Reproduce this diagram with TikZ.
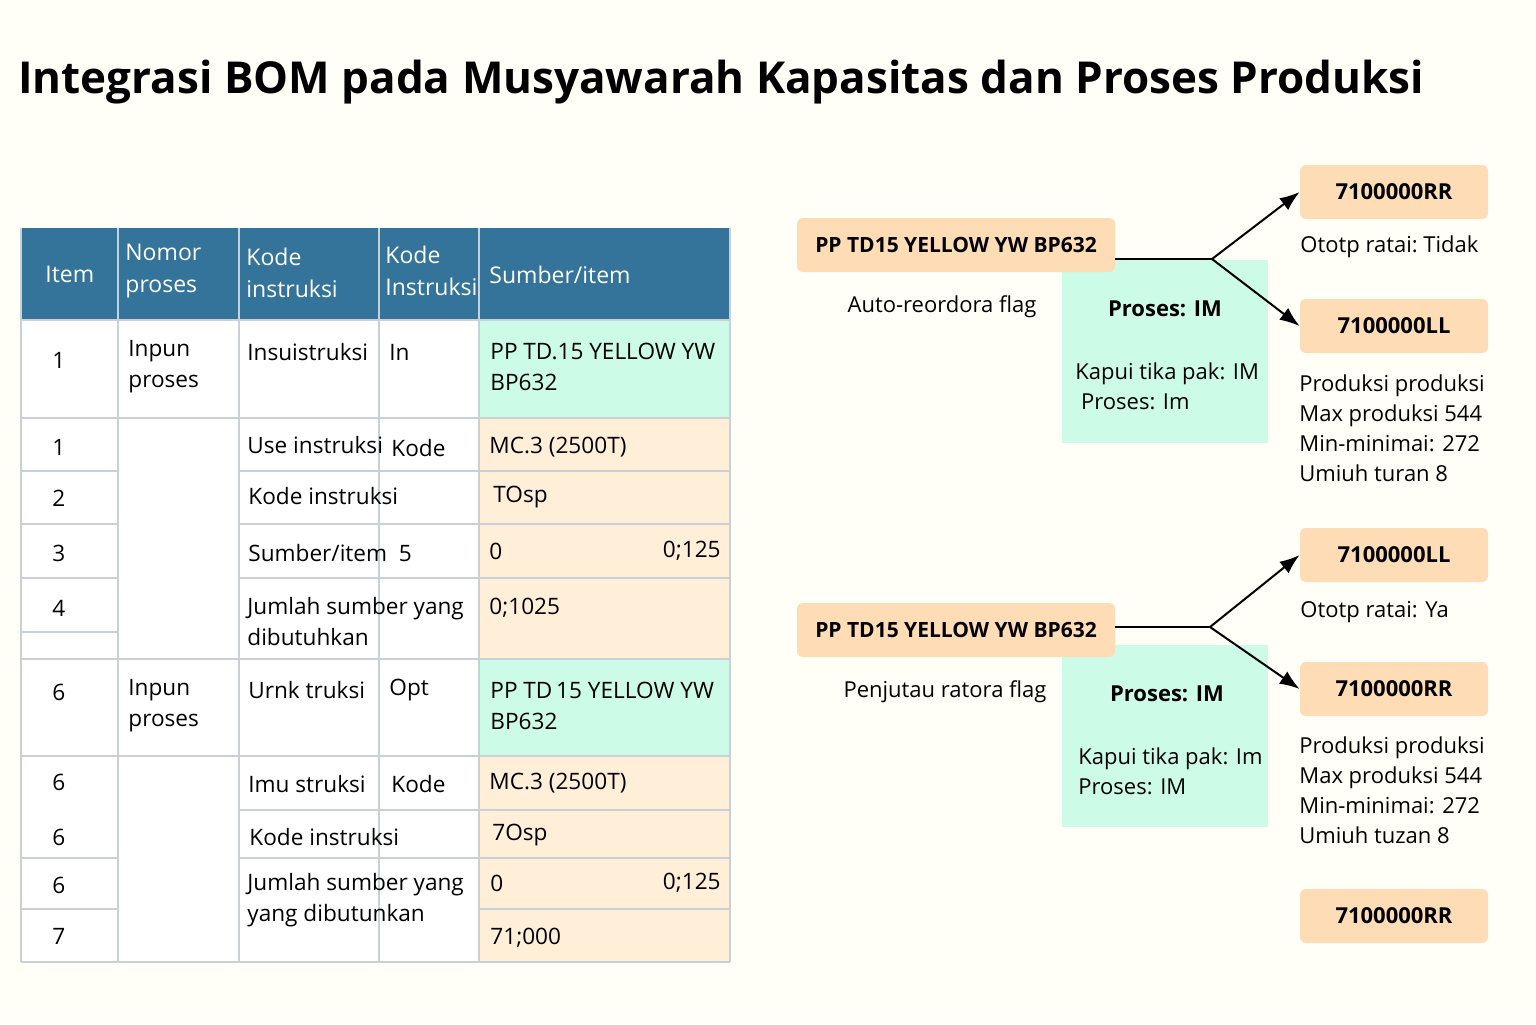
\documentclass[tikz,border=0pt]{standalone}
\usepackage{fontspec}
\setmainfont{Open Sans}
\usetikzlibrary{arrows.meta,positioning}
\definecolor{hdr}{HTML}{34739A}
\definecolor{mint}{HTML}{CCFBE8}
\definecolor{peach}{HTML}{FFEED8}
\definecolor{tag}{HTML}{FDDCB6}
\definecolor{grid}{HTML}{C9D0D6}

\begin{document}
\begin{tikzpicture}[
  x=0.5pt, y=-0.5pt,
  font=\fontsize{11}{13}\selectfont,
  cell/.style={anchor=west, align=left, inner sep=0pt, font=\fontsize{11.3}{15.5}\selectfont},
  hcell/.style={cell, text=white, font=\fontsize{11.5}{16}\selectfont},
  tagbox/.style={fill=tag, rounded corners=3pt, minimum height=27pt, inner sep=0pt},
  gl/.style={draw=grid, line width=0.6pt},
  arr/.style={-{Latex[length=3.5mm,width=2.6mm]}, line width=1pt}
]
\useasboundingbox (0,0) rectangle (1536,1024);
\fill[white!97!yellow] (0,0) rectangle (1536,1024);

\node[anchor=west, inner sep=0pt, font=\fontsize{22}{26}\selectfont\bfseries] (title) at (18,82) {Integrasi BOM pada Musyawarah Kapasitas dan Proses Produksi};

% table fills
\fill[hdr] (21,228) rectangle (730,320);
\fill[white] (21,320) rectangle (479,962);
\fill[mint] (479,320) rectangle (730,418);
\fill[peach] (479,418) rectangle (730,659);
\fill[mint] (479,659) rectangle (730,756);
\fill[peach] (479,756) rectangle (730,962);

% grid
\foreach \x in {21,118,239,379,479,730}
  \draw[gl] (\x,228) -- (\x,962);
\foreach \y in {320,418,471,524,578,632,659,756,858,909,962}
  \draw[gl] (21,\y) -- (118,\y);
\foreach \y in {320,418,659,756,962}
  \draw[gl] (118,\y) -- (239,\y);
\foreach \y in {320,418,471,524,578,659,756,810,858,962}
  \draw[gl] (239,\y) -- (730,\y);
\draw[gl] (479,909) -- (730,909);

% header
\node[hcell] (hItem) at (45,274) {Item};
\node[hcell] (hNomor) at (125,271) {Nomor\\proses};
\node[hcell] (hKode) at (246,273) {Kode\\instruksi};
\node[hcell] (hKodeI) at (385,271) {Kode\\Instruksi};
\node[hcell] (hSumber) at (489,275) {Sumber/item};

% block one
\node[cell] (a1) at (52,360) {1};
\node[cell] (a2) at (128,367) {Inpun\\proses};
\node[cell] (a3) at (247,352) {Insuistruksi};
\node[cell] (a4) at (389,352) {In};
\node[cell] (a5) at (490,367) {PP\ TD.15\ YELLOW YW\\BP632};
\node[cell] (b1) at (52,447) {1};
\node[cell] (b3) at (247,445) {Use instruksi};
\node[cell] (b4) at (391,448) {Kode};
\node[cell] (b5) at (489,447) {MC.3\ (2500T)};
\node[cell] (c1) at (52,498) {2};
\node[cell] (c3) at (248,496) {Kode instruksi};
\node[cell] (c5) at (493,497) {TOsp};
\node[cell] (d1) at (52,553) {3};
\node[cell] (d3) at (248,553) {Sumber/item\ \ 5};
\node[cell] (d5) at (489,551) {0};
\node[cell, anchor=east] (d6) at (721,551) {0;125};
\node[cell] (e1) at (52,608) {4};
\node[cell] (e3) at (247,622) {Jumlah sumber yang\\dibutuhkan};
\node[cell] (e5) at (489,608) {0;1025};

% block two
\node[cell] (f1) at (52,692) {6};
\node[cell] (f2) at (128,706) {Inpun\\proses};
\node[cell] (f3) at (248,690) {Urnk truksi};
\node[cell] (f4) at (389,690) {Opt};
\node[cell] (f5) at (490,706) {PP\ TD\,15\ YELLOW YW\\BP632};
\node[cell] (g1) at (52,782) {6};
\node[cell] (g3) at (248,784) {Imu struksi};
\node[cell] (g4) at (391,784) {Kode};
\node[cell] (g5) at (489,783) {MC.3\ (2500T)};
\node[cell] (h1) at (52,837) {6};
\node[cell] (h3) at (249,837) {Kode instruksi};
\node[cell] (h5) at (492,835) {7Osp};
\node[cell] (i1) at (52,885) {6};
\node[cell] (i3) at (247,900) {Jumlah sumber yang\\yang dibutunkan};
\node[cell] (i5) at (490,883) {0};
\node[cell, anchor=east] (i6) at (721,883) {0;125};
\node[cell] (j1) at (52,936) {7};
\node[cell] (j5) at (490,938) {71;000};

% flow one
\fill[mint] (1062,260) rectangle (1268,443);
\node[tagbox, minimum width=159pt, font=\fontsize{10.5}{13}\selectfont\bfseries] (ppA) at (956,245) {PP TD15 YELLOW YW BP632};
\node (flagA) at (942,307) {Auto-reordora flag};
\node[font=\fontsize{11}{13}\selectfont\bfseries] (prA) at (1165,309) {Proses: IM};
\node[cell, font=\fontsize{11}{15}\selectfont] (kpA) at (1075,386) {Kapui tika pak: IM\\\ Proses: Im};
\coordinate (forkA) at (1212,259);
\node[tagbox, minimum width=94pt, font=\fontsize{11}{13}\selectfont\bfseries] (rrA) at (1394,192) {7100000RR};
\node[cell, font=\fontsize{11}{13}\selectfont] (otA) at (1300,247) {Ototp ratai:\ Tidak};
\node[tagbox, minimum width=94pt, font=\fontsize{11}{13}\selectfont\bfseries] (llA) at (1394,326) {7100000LL};
\node[cell, font=\fontsize{11}{15}\selectfont] (prodA) at (1299,428) {Produksi produksi\\Max produksi 544\\Min-minimai: 272\\Umiuh turan 8};
\draw[line width=1pt] (ppA.east |- forkA) -- (forkA);
\draw[arr] (forkA) -- (rrA.west);
\draw[arr] (forkA) -- (llA.west);

% flow two
\fill[mint] (1062,645) rectangle (1268,827);
\node[tagbox, minimum width=159pt, font=\fontsize{10.5}{13}\selectfont\bfseries] (ppB) at (956,630) {PP TD15 YELLOW YW BP632};
\node (flagB) at (945,692) {Penjutau ratora flag};
\node[font=\fontsize{11}{13}\selectfont\bfseries] (prB) at (1167,694) {Proses: IM};
\node[cell, font=\fontsize{11}{15}\selectfont] (kpB) at (1078,771) {Kapui tika pak: Im\\Proses: IM};
\coordinate (forkB) at (1210,627);
\node[tagbox, minimum width=94pt, font=\fontsize{11}{13}\selectfont\bfseries] (llB) at (1394,555) {7100000LL};
\node[cell, font=\fontsize{11}{13}\selectfont] (otB) at (1300,612) {Ototp ratai: Ya};
\node[tagbox, minimum width=94pt, font=\fontsize{11}{13}\selectfont\bfseries] (rrB) at (1394,689) {7100000RR};
\node[cell, font=\fontsize{11}{15}\selectfont] (prodB) at (1299,790) {Produksi produksi\\Max produksi 544\\Min-minimai: 272\\Umiuh tuzan 8};
\draw[line width=1pt] (ppB.east |- forkB) -- (forkB);
\draw[arr] (forkB) -- (llB.west);
\draw[arr] (forkB) -- (rrB.west);

\node[tagbox, minimum width=94pt, font=\fontsize{11}{13}\selectfont\bfseries] (rrC) at (1394,916) {7100000RR};
\end{tikzpicture}
\end{document}
